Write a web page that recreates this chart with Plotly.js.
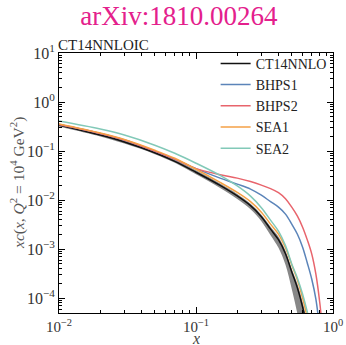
<!DOCTYPE html>
<html>
<head>
<meta charset="utf-8">
<script src="https://cdn.plot.ly/plotly-3.0.1.min.js"></script>
<style>
  html, body { margin: 0; padding: 0; background: #fff; }
  #chart { width: 346px; height: 345px; }
</style>
</head>
<body>
<div id="chart"></div>
<script>
// Momentum fraction grid
const xGrid = [0.01, 0.02, 0.03, 0.05, 0.07, 0.1, 0.15, 0.2, 0.25, 0.3, 0.35, 0.4,
               0.45, 0.5, 0.55, 0.6, 0.65, 0.7, 0.75, 0.8, 0.85];

// x c(x, Q^2 = 1e4 GeV^2) for each charm scenario
const ct14nnlo = [0.340, 0.212, 0.153, 0.0927, 0.0619, 0.0371, 0.0200, 0.0122, 0.00773,
                  0.00460, 0.00256, 0.00156, 0.000809, 0.000344, 0.000162, 6.64e-5, 2.33e-5];
const ct14Low  = [0.316, 0.198, 0.142, 0.0865, 0.0577, 0.0338, 0.0177, 0.01057, 0.00655,
                  0.00373, 0.00193, 0.00107, 0.000483, 0.000155, 4.78e-5, 1.17e-5, 2.22e-6];
const ct14High = [0.364, 0.228, 0.164, 0.0995, 0.0665, 0.0408, 0.0219, 0.0134, 0.00849,
                  0.00506, 0.00288, 0.00180, 0.000932, 0.000396, 0.000196, 8.40e-5, 3.09e-5];
const bhps1 = [0.347, 0.228, 0.168, 0.100, 0.0687, 0.0439, 0.0281, 0.0212, 0.0168, 0.0126,
               0.00932, 0.00719, 0.00518, 0.00324, 0.00202, 0.00110, 0.000518, 0.000244,
               9.55e-5, 2.33e-5];
const bhps2 = [0.347, 0.228, 0.168, 0.100, 0.0687, 0.0439, 0.0331, 0.0281, 0.0239, 0.0202,
               0.0172, 0.0142, 0.0107, 0.00719, 0.00471, 0.00281, 0.00153, 0.000791,
               0.000309, 8.28e-5, 1.53e-5];
const sea1 = [0.356, 0.233, 0.172, 0.104, 0.0713, 0.0427, 0.0230, 0.01436, 0.00932, 0.00569,
              0.00324, 0.00202, 0.00107, 0.000478, 0.000236, 0.000101, 3.91e-5, 1.39e-5];
const sea2 = [0.409, 0.281, 0.212, 0.132, 0.0902, 0.0566, 0.0319, 0.0195, 0.0121, 0.00703,
              0.00391, 0.00233, 0.00118, 0.000501, 0.000256, 0.000121, 5.18e-5, 2.02e-5];

const seriesNames = ['CT14NNLO', 'BHPS1', 'BHPS2', 'SEA1', 'SEA2'];
const seriesColors = ['#111111', '#5b84b9', '#e8646c', '#f4a146', '#82c9b8'];
const seriesValues = [ct14nnlo, bhps1, bhps2, sea1, sea2];

// decade tick labels
const xTickVals = [0.01, 0.1, 1];
const xTickText = ['10<sup>\u22122</sup>', '10<sup>\u22121</sup>', '10<sup>0</sup>'];
const yTickVals = [1e-4, 1e-3, 1e-2, 1e-1, 1, 10];
const yTickText = ['10<sup>\u22124</sup>', '10<sup>\u22123</sup>', '10<sup>\u22122</sup>',
                   '10<sup>\u22121</sup>', '10<sup>0</sup>', '10<sup>1</sup>'];

// minor ticks at 2..9 times each power of ten
function minorTicks(p0, p1) {
  const out = [];
  for (let p = p0; p < p1; p++) {
    for (let k = 2; k <= 9; k++) out.push(k * Math.pow(10, p));
  }
  return out;
}

const serif = '"Liberation Serif", "DejaVu Serif", serif';

const traces = [
  // uncertainty band of the central set
  { x: xGrid.slice(0, ct14Low.length), y: ct14Low, mode: 'lines',
    line: { width: 0, color: 'rgba(0,0,0,0)', shape: 'spline' }, showlegend: false, hoverinfo: 'skip' },
  { x: xGrid.slice(0, ct14High.length), y: ct14High, mode: 'lines', fill: 'tonexty',
    fillcolor: '#878787', line: { width: 0, color: 'rgba(0,0,0,0)', shape: 'spline' },
    showlegend: false, hoverinfo: 'skip' }
];
seriesNames.forEach((name, i) => {
  traces.push({
    x: xGrid.slice(0, seriesValues[i].length), y: seriesValues[i],
    mode: 'lines', name: name, line: { color: seriesColors[i], width: 1.5, shape: 'spline' }
  });
});

const axisCommon = {
  type: 'log', showgrid: false, zeroline: false,
  showline: true, linecolor: '#000', linewidth: 1, mirror: 'allticks',
  ticks: 'inside', ticklen: 6, tickcolor: '#000', tickwidth: 1,
  tickmode: 'array'
};

const layout = {
  width: 346, height: 345,
  margin: { l: 59, r: 13, t: 53, b: 32 },
  paper_bgcolor: '#fff', plot_bgcolor: '#fff',
  showlegend: true,
  title: {
    text: 'arXiv:1810.00264',
    font: { family: serif, size: 27, color: '#e4208c' },
    x: 0.517, xanchor: 'center', xref: 'container',
    y: 0.955, yanchor: 'middle', yref: 'container'
  },
  xaxis: Object.assign({}, axisCommon, {
    range: [-2, 0], tickvals: xTickVals, ticktext: xTickText,
    tickfont: { family: serif, size: 15, color: '#333' },
    minor: { tickmode: 'array', tickvals: minorTicks(-2, 0), ticks: 'inside',
             ticklen: 3, tickcolor: '#000', showgrid: false }
  }),
  yaxis: Object.assign({}, axisCommon, {
    range: [Math.log10(5e-5), 1], tickvals: yTickVals, ticktext: yTickText,
    tickfont: { family: serif, size: 16, color: '#333' },
    minor: { tickmode: 'array', tickvals: minorTicks(-5, 1), ticks: 'inside',
             ticklen: 3, tickcolor: '#000', showgrid: false }
  }),
  legend: {
    x: 0.995, xanchor: 'right', y: 1.02, yanchor: 'top',
    traceorder: 'normal',
    bgcolor: 'rgba(0,0,0,0)', borderwidth: 0,
    font: { family: serif, size: 14, color: '#222' },
    tracegroupgap: 0
  },
  annotations: [
    { // panel label above the frame
      text: 'CT14NNLOIC', xref: 'paper', yref: 'paper', x: 0, y: 1,
      xanchor: 'left', yanchor: 'bottom', showarrow: false, yshift: -2, xshift: -3,
      font: { family: serif, size: 15, color: '#222' }
    },
    { // x axis title
      text: '<i>x</i>', xref: 'paper', yref: 'paper', x: 0.5, y: 0,
      xanchor: 'center', yanchor: 'bottom', showarrow: false, yshift: -33,
      height: 12, valign: 'middle',
      font: { family: serif, size: 16, color: '#444' }
    },
    { // y axis title
      text: '<i>xc</i>(<i>x</i>, <i>Q</i><sup>2</sup> = 10<sup>4</sup> GeV<sup>2</sup>)',
      xref: 'paper', yref: 'paper', x: 0, y: 0.5, textangle: -90,
      xanchor: 'center', yanchor: 'middle', showarrow: false, xshift: -42,
      font: { family: serif, size: 15.5, color: '#555' }
    }
  ]
};

Plotly.newPlot('chart', traces, layout, { staticPlot: true, displayModeBar: false });
</script>
</body>
</html>
